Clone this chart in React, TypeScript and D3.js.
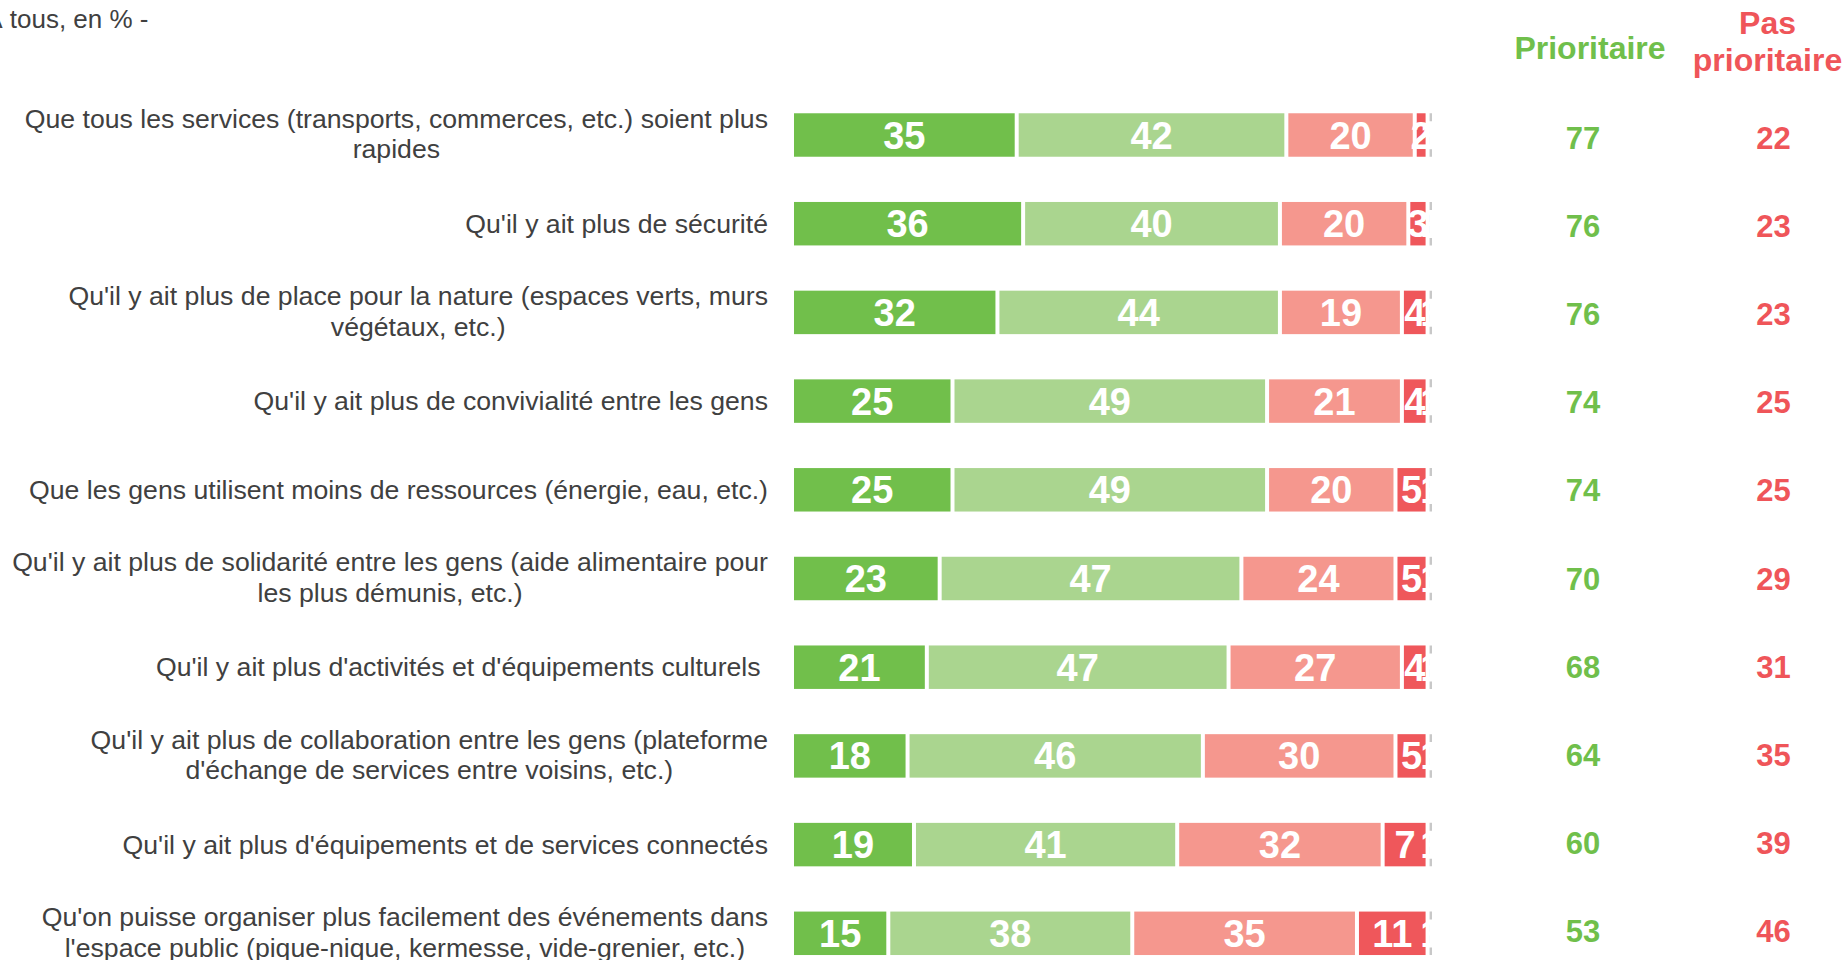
import React, { useEffect, useRef } from "react";
import * as d3 from "d3";

const categories: string[] = [
  "Que tous les services (transports, commerces, etc.) soient plus\nrapides",
  "Qu'il y ait plus de sécurité",
  "Qu'il y ait plus de place pour la nature (espaces verts, murs\nvégétaux, etc.)",
  "Qu'il y ait plus de convivialité entre les gens",
  "Que les gens utilisent moins de ressources (énergie, eau, etc.)",
  "Qu'il y ait plus de solidarité entre les gens (aide alimentaire pour\nles plus démunis, etc.)",
  "Qu'il y ait plus d'activités et d'équipements culturels ",
  "Qu'il y ait plus de collaboration entre les gens (plateforme\nd'échange de services entre voisins, etc.)",
  "Qu'il y ait plus d'équipements et de services connectés",
  "Qu'on puisse organiser plus facilement des événements dans\nl'espace public (pique-nique, kermesse, vide-grenier, etc.)",
];

const tresPrioritaire: number[] = [35, 36, 32, 25, 25, 23, 21, 18, 19, 15];
const plutotPrioritaire: number[] = [42, 40, 44, 49, 49, 47, 47, 46, 41, 38];
const plutotPasPrioritaire: number[] = [20, 20, 19, 21, 20, 24, 27, 30, 32, 35];
const pasDuToutPrioritaire: number[] = [2, 3, 4, 4, 5, 5, 4, 5, 7, 11];
const nsp: number[] = [1, 1, 1, 1, 1, 1, 1, 1, 1, 1];

const totalPrioritaire: number[] = [77, 76, 76, 74, 74, 70, 68, 64, 60, 53];
const totalPasPrioritaire: number[] = [22, 23, 23, 25, 25, 29, 31, 35, 39, 46];

const seriesKeys = ["tres", "plutot", "plutotPas", "pasDuTout", "nsp"];
const seriesColors = ["#71BF4B", "#AAD58F", "#F5978E", "#EF575B", "#C8C8C8"];

const titleText = "- À tous, en % -";
const headerPrioritaire = "Prioritaire";
const headerPasPrioritaire = ["Pas", "prioritaire"];

const GREEN_TEXT = "#70BF4B";
const RED_TEXT = "#EF5559";
const FONT = "Arial, 'Liberation Sans', sans-serif";

export default function App() {
  const ref = useRef<SVGSVGElement | null>(null);

  useEffect(() => {
    const svg = d3.select(ref.current);
    svg.selectAll("*").remove();

    const table = categories.map((c, i) => ({
      cat: c,
      tres: tresPrioritaire[i],
      plutot: plutotPrioritaire[i],
      plutotPas: plutotPasPrioritaire[i],
      pasDuTout: pasDuToutPrioritaire[i],
      nsp: nsp[i],
    }));

    const stack = d3.stack<any>().keys(seriesKeys);
    const stacked = stack(table);

    const x = d3.scaleLinear().domain([0, 100]).range([792, 1434]);
    const pitch = 88.7;
    const y = d3
      .scaleBand<string>()
      .domain(categories)
      .range([135 - pitch / 2, 135 - pitch / 2 + pitch * categories.length])
      .paddingInner(0.51)
      .paddingOuter(0.255);

    // totals column rows (slightly different spacing than bars)
    const totalPitch = 88.2;
    const yTotal = d3
      .scalePoint<string>()
      .domain(categories)
      .range([137.5, 137.5 + totalPitch * (categories.length - 1)]);

    // title
    svg
      .append("text")
      .attr("x", 148.5)
      .attr("y", 28.3)
      .attr("text-anchor", "end")
      .attr("font-family", FONT)
      .attr("font-size", 26)
      .attr("fill", "#404040")
      .text(titleText);

    // headers
    svg
      .append("text")
      .attr("x", 1590)
      .attr("y", 59.3)
      .attr("text-anchor", "middle")
      .attr("font-family", FONT)
      .attr("font-weight", "bold")
      .attr("font-size", 32)
      .attr("fill", GREEN_TEXT)
      .text(headerPrioritaire);
    headerPasPrioritaire.forEach((t, i) => {
      svg
        .append("text")
        .attr("x", 1767.5)
        .attr("y", 34.3 + i * 36.5)
        .attr("text-anchor", "middle")
        .attr("font-family", FONT)
        .attr("font-weight", "bold")
        .attr("font-size", 32)
        .attr("fill", RED_TEXT)
        .text(t);
    });

    // category labels
    const labelRight = 768;
    const lineH = 30.6;
    categories.forEach((c) => {
      const lines = c.split("\n");
      const cy = (y(c) as number) + y.bandwidth() / 2;
      const g = svg.append("g");
      const texts = lines.map((ln, li) =>
        g
          .append("text")
          .attr("font-family", FONT)
          .attr("font-size", 26.65)
          .attr("fill", "#404040")
          .attr("text-anchor", "middle")
          .style("white-space", "pre")
          .attr("y", cy + 9 - ((lines.length - 1) * lineH) / 2 + li * lineH - (lines.length > 1 ? 1 : 0))
          .text(ln)
      );
      let maxW = 0;
      texts.forEach((t) => {
        const w = (t.node() as SVGTextElement).getComputedTextLength();
        if (w > maxW) maxW = w;
      });
      texts.forEach((t) => t.attr("x", labelRight - maxW / 2));
    });

    // bars
    const gap = 2;
    stacked.forEach((layer, si) => {
      const g = svg.append("g");
      layer.forEach((d: any) => {
        const cat = d.data.cat;
        const x0 = x(d[0]);
        const x1 = x(d[1]);
        const yy = y(cat) as number;
        const h = y.bandwidth();
        if (seriesKeys[si] === "nsp") {
          const w = Math.max(0, x1 - x0 - 2 * gap);
          g.append("line")
            .attr("x1", x0 + gap + w / 2)
            .attr("x2", x0 + gap + w / 2)
            .attr("y1", yy)
            .attr("y2", yy + h)
            .attr("stroke", seriesColors[si])
            .attr("stroke-width", w)
            .attr("stroke-dasharray", "8,4");
        } else {
          g.append("rect")
            .attr("x", x0 + gap)
            .attr("y", yy)
            .attr("width", Math.max(0, x1 - x0 - 2 * gap))
            .attr("height", h)
            .attr("fill", seriesColors[si]);
        }
      });
    });

    // bar value labels
    stacked.forEach((layer) => {
      layer.forEach((d: any) => {
        const cat = d.data.cat;
        const v = d[1] - d[0];
        const cx = (x(d[0]) + x(d[1])) / 2;
        const cy = (y(cat) as number) + y.bandwidth() / 2;
        svg
          .append("text")
          .attr("x", cx)
          .attr("y", cy + 13.5)
          .attr("text-anchor", "middle")
          .attr("font-family", FONT)
          .attr("font-weight", "bold")
          .attr("font-size", 38)
          .attr("fill", "#FFFFFF")
          .text(v);
      });
    });

    // totals
    categories.forEach((c, i) => {
      const cy = yTotal(c) as number;
      svg
        .append("text")
        .attr("x", 1583)
        .attr("y", cy + 11)
        .attr("text-anchor", "middle")
        .attr("font-family", FONT)
        .attr("font-weight", "bold")
        .attr("font-size", 31)
        .attr("fill", GREEN_TEXT)
        .text(totalPrioritaire[i]);
      svg
        .append("text")
        .attr("x", 1773.5)
        .attr("y", cy + 11)
        .attr("text-anchor", "middle")
        .attr("font-family", FONT)
        .attr("font-weight", "bold")
        .attr("font-size", 31)
        .attr("fill", RED_TEXT)
        .text(totalPasPrioritaire[i]);
    });
  }, []);

  return (
    <div style={{ position: "absolute", left: 0, top: 0, width: 1846, height: 960, overflow: "hidden" }}>
      <svg ref={ref} width={1846} height={960} style={{ display: "block", background: "#FFFFFF" }} />
    </div>
  );
}
